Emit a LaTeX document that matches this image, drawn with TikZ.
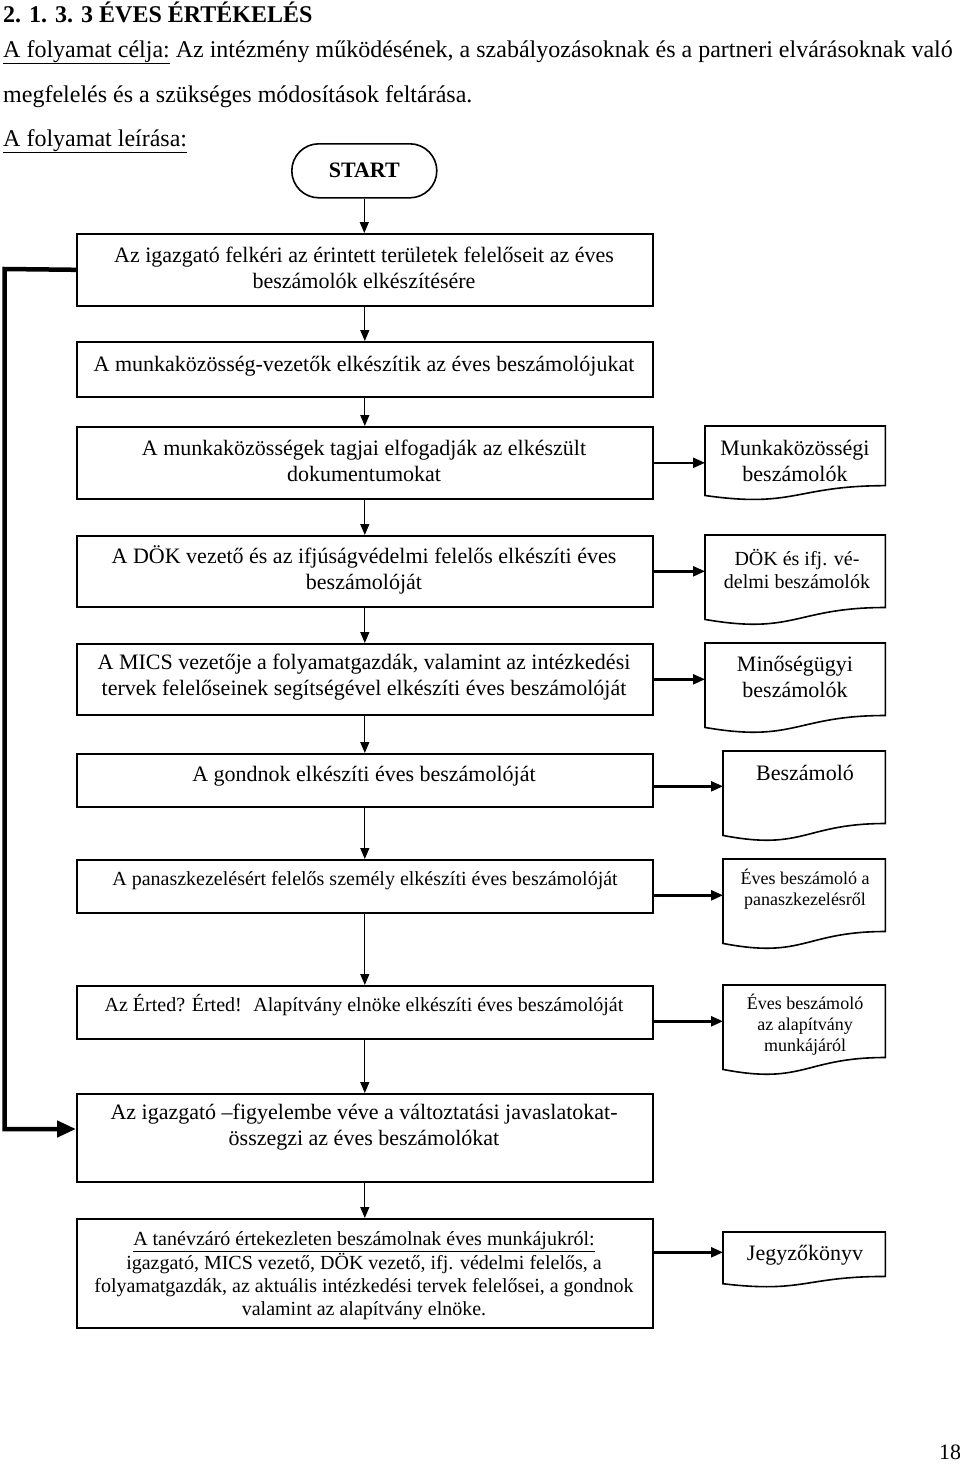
\documentclass[tikz,border=0pt]{standalone}
\usepackage{fontspec}
\setmainfont{Liberation Serif}
\usetikzlibrary{arrows.meta,calc}
\newcommand\fsz[2]{\fontsize{#1}{#2}\selectfont}
\newcommand\docpath[1]{%
  \draw[docline] let \p1=(#1.north west), \p2=(#1.south east) in
    (\x1,\y1) -- (\x2,\y1) -- (\x2,{\y1+0.802*(\y2-\y1)})
    .. controls ({(\x1+\x2)/2},{\y1+0.802*(\y2-\y1)}) and ({(\x1+\x2)/2},{\y1+1.107*(\y2-\y1)})
    .. (\x1,{\y1+0.934*(\y2-\y1)}) -- cycle;}
\begin{document}
\begin{tikzpicture}[x=1pt,y=-1pt,
  box/.style={draw, line width=1.6pt, anchor=north west, inner sep=0pt, minimum width=576pt},
  docbox/.style={anchor=north west, inner sep=0pt},
  docline/.style={line width=1.6pt},
  txt/.style={align=center, inner sep=0pt, font=\fsz{22}{26}},
  stxt/.style={align=center, inner sep=0pt, font=\fsz{20}{23.3}},
  xstxt/.style={align=center, inner sep=0pt, font=\fsz{18}{21}},
  htxt/.style={anchor=base west, inner sep=0pt, font=\fsz{24}{28}},
  varr/.style={line width=1.3pt, -{Triangle[length=11pt,width=9pt]}},
  harr/.style={line width=2.4pt, -{Triangle[length=12pt,width=10pt]}},
  fb/.style={line width=4.5pt, -{Triangle[length=19pt,width=16pt]}}]
\useasboundingbox[fill=white] (0,0) rectangle (960,1467);

% header
\node[htxt, font=\fsz{24}{28}\bfseries] (h1) at (3,22) {2. 1. 3. 3 ÉVES ÉRTÉKELÉS};
\node[htxt] (h2) at (3,57) {\underline{A folyamat célja:} Az intézmény működésének, a szabályozásoknak és a partneri elvárásoknak való};
\node[htxt] (h3) at (3,102) {megfelelés és a szükséges módosítások feltárása.};
\node[htxt] (h4) at (3,146) {\underline{A folyamat leírása:}};

% start
\node[draw, line width=1.6pt, rounded corners=27pt, minimum width=145pt, minimum height=54pt, inner sep=0pt, anchor=north west] (start) at (291,143) {};
\node[txt, font=\fsz{22}{26}\bfseries] (tstart) at (start.center) {START};

% boxes
\node[box, minimum height=72pt] (b1) at (76,233) {};
\node[box, minimum height=55pt] (b2) at (76,341) {};
\node[box, minimum height=72pt] (b3) at (76,426) {};
\node[box, minimum height=71pt] (b4) at (76,535) {};
\node[box, minimum height=71pt] (b5) at (76,643) {};
\node[box, minimum height=53pt] (b6) at (76,753) {};
\node[box, minimum height=53pt] (b7) at (76,859) {};
\node[box, minimum height=53pt] (b8) at (76,985) {};
\node[box, minimum height=88pt] (b9) at (76,1093) {};
\node[box, minimum height=109pt] (b10) at (76,1218) {};

% box texts
\node[txt] (t1) at (364,268) {Az igazgató felkéri az érintett területek felelőseit az éves\\beszámolók elkészítésére};
\node[txt] (t2) at (364,366) {A munkaközösség-vezetők elkészítik az éves beszámolójukat};
\node[txt] (t3) at (364,461) {A munkaközösségek tagjai elfogadják az elkészült\\dokumentumokat};
\node[txt] (t4) at (364,570) {A DÖK vezető és az ifjúságvédelmi felelős elkészíti éves\\beszámolóját};
\node[txt] (t5) at (364,677) {A MICS vezetője a folyamatgazdák, valamint az intézkedési\\tervek felelőseinek segítségével elkészíti éves beszámolóját};
\node[txt] (t6) at (364,776) {A gondnok elkészíti éves beszámolóját};
\node[stxt] (t7) at (365,881) {A panaszkezelésért felelős személy elkészíti éves beszámolóját};
\node[stxt] (t8) at (364,1005) {Az Érted? Érted!~ Alapítvány elnöke elkészíti éves beszámolóját};
\node[txt] (t9) at (364,1127) {Az igazgató –figyelembe véve a változtatási javaslatokat-\\összegzi az éves beszámolókat};
\node[stxt] (t10) at (364,1276) {\underline{A tanévzáró értekezleten beszámolnak éves munkájukról:}\\igazgató, MICS vezető, DÖK vezető, ifj. védelmi felelős, a\\folyamatgazdák, az aktuális intézkedési tervek felelősei, a gondnok\\valamint az alapítvány elnöke.};

% document shapes
\node[docbox, minimum width=180pt, minimum height=74pt] (d1) at (705,426) {};
\node[docbox, minimum width=180pt, minimum height=90pt] (d2) at (705,535) {};
\node[docbox, minimum width=180pt, minimum height=90pt] (d3) at (705,643) {};
\node[docbox, minimum width=162pt, minimum height=90pt] (d4) at (723,751) {};
\node[docbox, minimum width=162pt, minimum height=90pt] (d5) at (723,859) {};
\node[docbox, minimum width=162pt, minimum height=90pt] (d6) at (723,985) {};
\node[docbox, minimum width=162pt, minimum height=55pt] (d7) at (723,1232) {};
\docpath{d1}\docpath{d2}\docpath{d3}\docpath{d4}\docpath{d5}\docpath{d6}\docpath{d7}

\node[txt] (dt1) at (795,461) {Munkaközösségi\\beszámolók};
\node[stxt] (dt2) at (797,569) {DÖK és ifj. vé-\\delmi beszámolók};
\node[txt] (dt3) at (795,677) {Minőségügyi\\beszámolók};
\node[txt] (dt4) at (805,773) {Beszámoló};
\node[xstxt] (dt5) at (805,889) {Éves beszámoló a\\panaszkezelésről};
\node[xstxt] (dt6) at (805,1025) {Éves beszámoló\\az alapítvány\\munkájáról};
\node[txt] (dt7) at (805,1255) {Jegyzőkönyv};

% vertical arrows
\draw[varr] (start.south) -- (start.south |- b1.north);
\draw[varr] (b1.south) -- (b2.north);
\draw[varr] (b2.south) -- (b3.north);
\draw[varr] (b3.south) -- (b4.north);
\draw[varr] (b4.south) -- (b5.north);
\draw[varr] (b5.south) -- (b6.north);
\draw[varr] (b6.south) -- (b7.north);
\draw[varr] (b7.south) -- (b8.north);
\draw[varr] (b8.south) -- (b9.north);
\draw[varr] (b9.south) -- (b10.north);

% horizontal arrows
\coordinate (a6) at ([yshift=-6pt]b6.east);
\coordinate (a7) at ([yshift=-9pt]b7.east);
\coordinate (a8) at ([yshift=-9pt]b8.east);
\coordinate (a10) at ([yshift=21pt]b10.east);
\draw[harr] (b3.east) -- (b3.east -| d1.west);
\draw[harr] (b4.east) -- (b4.east -| d2.west);
\draw[harr] (b5.east) -- (b5.east -| d3.west);
\draw[harr] (a6) -- (a6 -| d4.west);
\draw[harr] (a7) -- (a7 -| d5.west);
\draw[harr] (a8) -- (a8 -| d6.west);
\draw[harr] (a10) -- (a10 -| d7.west);

% feedback line
\coordinate (fbtop) at (4.5,269);
\coordinate (fbbot) at (4.5,1129);
\draw[fb] (b1.west) -- (fbtop) -- (fbbot) -- (fbbot -| b9.west);

% page number
\node[txt] (pg) at (950,1452) {18};
\end{tikzpicture}
\end{document}
